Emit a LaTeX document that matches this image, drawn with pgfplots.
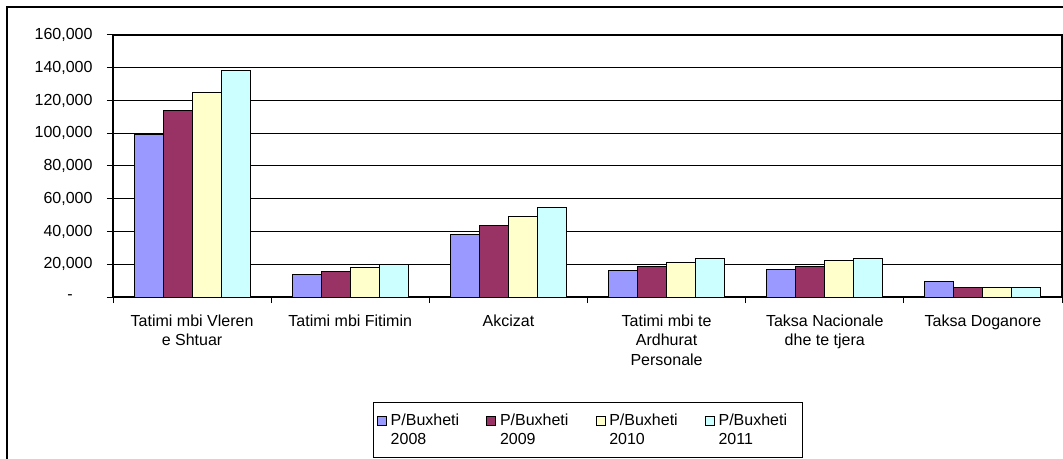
\documentclass[border=0pt]{standalone}
\usepackage{fontspec}
\setmainfont{Liberation Sans}
\usepackage{pgfplots}
\pgfplotsset{compat=1.18}
\usetikzlibrary{calc}
\definecolor{cA}{HTML}{9999FF}
\definecolor{cB}{HTML}{993366}
\definecolor{cC}{HTML}{FFFFCC}
\definecolor{cD}{HTML}{CCFFFF}
\begin{document}
\fontsize{16pt}{19.5pt}\selectfont
\begin{tikzpicture}
\begin{axis}[
  set layers=standard,
  scale only axis, width=949pt, height=262pt,
  xmin=-0.5, xmax=5.5, ymin=0, ymax=160000,
  ybar=0pt, bar width=29pt,
  axis line style={black, line width=1.2pt, /pgfplots/on layer=axis foreground},
  xtick={0,1,2,3,4,5},
  minor xtick={-0.5,0.5,1.5,2.5,3.5,4.5,5.5},
  major x tick style={draw=none},
  minor x tick style={black, line width=1pt},
  xticklabels={{Tatimi mbi Vleren\\e Shtuar},{Tatimi mbi Fitimin},{Akcizat},{Tatimi mbi te\\Ardhurat\\Personale},{Taksa Nacionale\\dhe te tjera},{Taksa Doganore}},
  xticklabel style={align=center, font=\fontsize{16pt}{19.5pt}\selectfont, yshift=-6pt},
  scaled y ticks=false,
  ytick={20000,40000,60000,80000,100000,120000,140000,160000},
  yticklabels={{20,000},{40,000},{60,000},{80,000},{100,000},{120,000},{140,000},{160,000}},
  extra y ticks={0},
  extra y tick labels={{\makebox[25pt][l]{-}}},
  extra y tick style={grid=none},
  yticklabel style={font=\fontsize{16pt}{19.5pt}\selectfont, xshift=-9pt},
  tick align=outside, major tick length=6pt, minor tick length=6pt,
  xtick pos=bottom, ytick pos=left,
  tick style={black, line width=1pt},
  ymajorgrids, grid style={black, line width=1pt},
  legend columns=4,
  legend style={at={(0.5,-0.401)}, anchor=north, draw=black, line width=0.8pt,
    font=\fontsize{16pt}{19pt}\selectfont,
    inner xsep=4pt, inner ysep=9pt,
    nodes={align=left, inner sep=2pt},
    /tikz/every even column/.append style={column sep=25pt},
    /tikz/every odd column/.append style={column sep=2pt}},
  legend cell align=left,
  legend image code/.code={\draw[#1, line width=0.8pt] (0pt,5pt) rectangle (9pt,14pt);},
]
\addplot[fill=cA, draw=black, line width=1pt] coordinates {(0,99500) (1,13900) (2,37900) (3,16100) (4,16900) (5,9400)};
\addplot[fill=cB, draw=black, line width=1pt] coordinates {(0,113800) (1,15700) (2,43800) (3,18500) (4,18500) (5,5900)};
\addplot[fill=cC, draw=black, line width=1pt] coordinates {(0,124700) (1,18200) (2,48900) (3,21200) (4,22000) (5,5900)};
\addplot[fill=cD, draw=black, line width=1pt] coordinates {(0,138500) (1,20000) (2,54800) (3,23600) (4,23600) (5,5900)};
\legend{{P/Buxheti\\2008},{P/Buxheti\\2009},{P/Buxheti\\2010},{P/Buxheti\hspace*{9pt}\\2011}}
\coordinate (O) at (rel axis cs:0,0);
\end{axis}
\pgfresetboundingbox
\path[use as bounding box] ($(O)+(-113pt,-161pt)$) rectangle ($(O)+(950pt,297pt)$);
\draw[line width=1.3pt] ($(O)+(-106pt,-190pt)$) rectangle ($(O)+(990pt,290pt)$);
\end{tikzpicture}
\end{document}
